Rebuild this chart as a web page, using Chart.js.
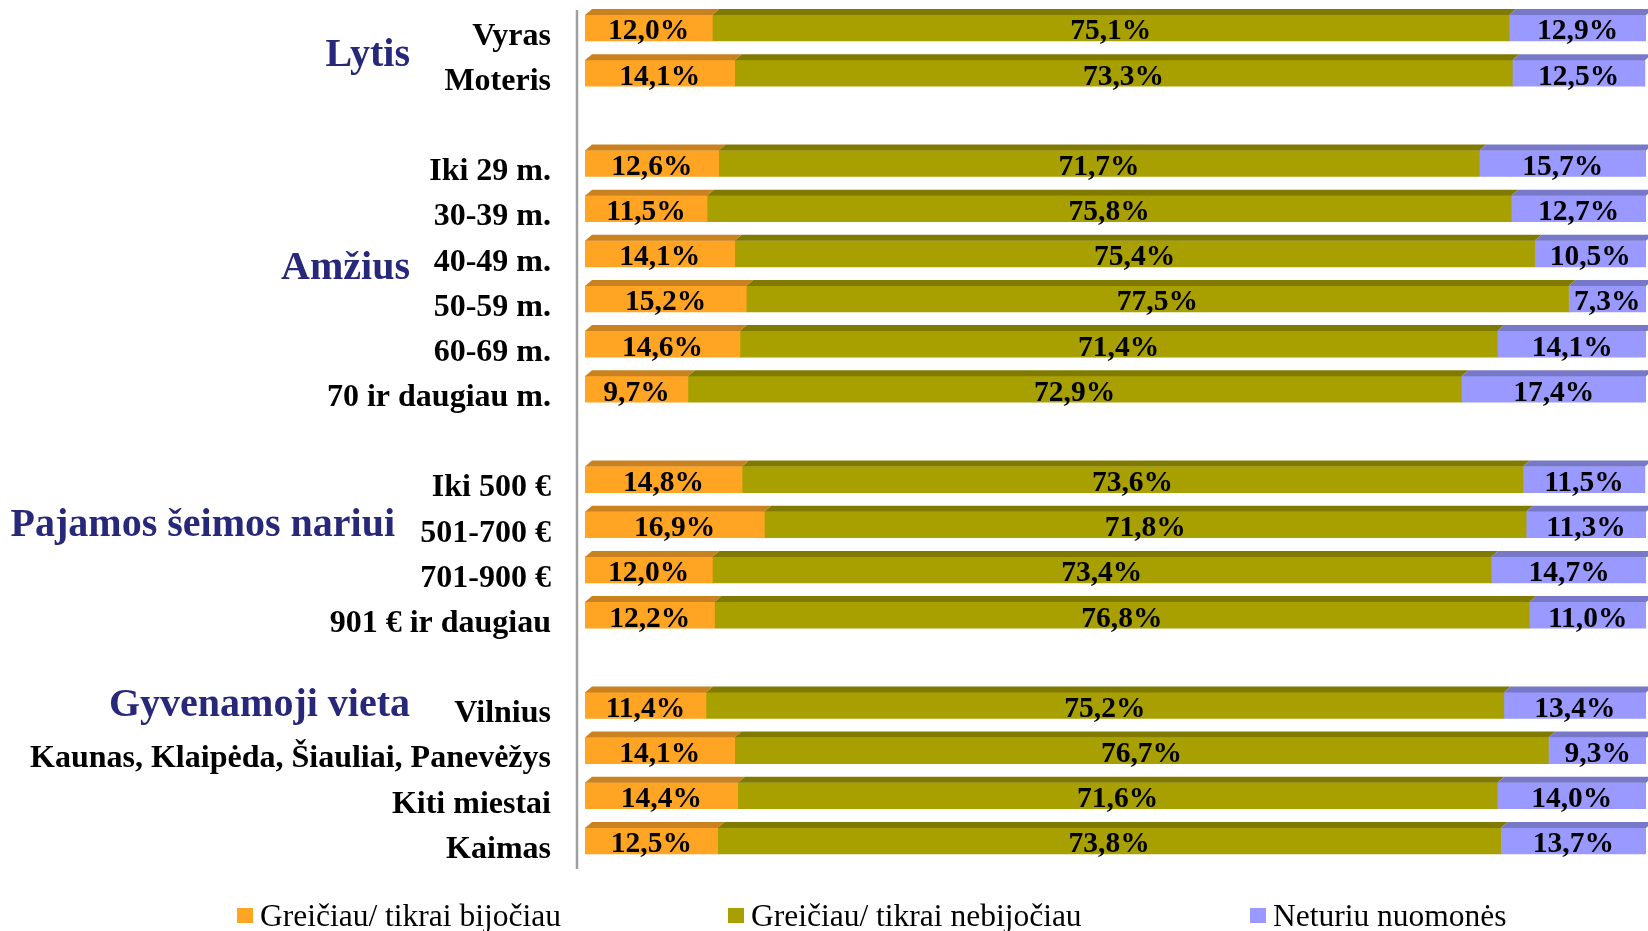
<!DOCTYPE html>
<html>
<head>
<meta charset="utf-8">
<script src="https://cdn.jsdelivr.net/npm/chart.js@4/dist/chart.umd.min.js"></script>
<style>
  html, body { margin: 0; padding: 0; background: #fff; overflow: hidden; }
  #wrap { width: 1648px; height: 931px; position: relative; }
</style>
</head>
<body>
<div id="wrap"><canvas id="chart"></canvas></div>
<script>
// '' rows are the empty spacer rows between groups
const categories = [
  'Vyras', 'Moteris', '',
  'Iki 29 m.', '30-39 m.', '40-49 m.', '50-59 m.', '60-69 m.', '70 ir daugiau m.', '',
  'Iki 500 €', '501-700 €', '701-900 €', '901 € ir daugiau', '',
  'Vilnius', 'Kaunas, Klaipėda, Šiauliai, Panevėžys', 'Kiti miestai', 'Kaimas'
];
const groups = ['Lytis', 'Amžius', 'Pajamos šeimos nariui', 'Gyvenamoji vieta'];

const seriesLabels = ['Greičiau/ tikrai bijočiau', 'Greičiau/ tikrai nebijočiau', 'Neturiu nuomonės'];
const afraid = [12.0, 14.1, null, 12.6, 11.5, 14.1, 15.2, 14.6, 9.7, null, 14.8, 16.9, 12.0, 12.2, null, 11.4, 14.1, 14.4, 12.5];
const notAfraid = [75.1, 73.3, null, 71.7, 75.8, 75.4, 77.5, 71.4, 72.9, null, 73.6, 71.8, 73.4, 76.8, null, 75.2, 76.7, 71.6, 73.8];
const noOpinion = [12.9, 12.5, null, 15.7, 12.7, 10.5, 7.3, 14.1, 17.4, null, 11.5, 11.3, 14.7, 11.0, null, 13.4, 9.3, 14.0, 13.7];

const FONT = '"Liberation Serif", "Times New Roman", serif';
const fronts = ['#FFA523', '#A8A000', '#9999FF'];
const tops = ['#C9821F', '#807B00', '#7878C8'];

// group label anchors: category position, right edge x
const groupPos = [[0.54, 410], [5.24, 410], [10.93, 395], [14.93, 410]];
const legendX = [237, 728, 1250];

const bars3d = {
  id: 'bars3d',
  afterDatasetsDraw(chart) {
    const ctx = chart.ctx;
    const depth = 6, shift = 7;
    ctx.save();
    chart.data.datasets.forEach((ds, i) => {
      chart.getDatasetMeta(i).data.forEach((bar, j) => {
        if (ds.data[j] == null) return;
        const top = bar.y - bar.height / 2;
        ctx.fillStyle = tops[i];
        ctx.beginPath();
        ctx.moveTo(bar.base, top);
        ctx.lineTo(bar.x, top);
        ctx.lineTo(bar.x + shift, top - depth);
        ctx.lineTo(bar.base + shift, top - depth);
        ctx.closePath();
        ctx.fill();
      });
    });
    // value labels
    ctx.font = 'bold 29.5px ' + FONT;
    ctx.fillStyle = '#000';
    ctx.textAlign = 'center';
    ctx.textBaseline = 'alphabetic';
    chart.data.datasets.forEach((ds, i) => {
      chart.getDatasetMeta(i).data.forEach((bar, j) => {
        const v = ds.data[j];
        if (v == null) return;
        ctx.fillText(v.toFixed(1).replace('.', ',') + '%', (bar.x + bar.base) / 2, bar.y + 11.5);
      });
    });
    ctx.restore();
  },
  afterDraw(chart) {
    const ctx = chart.ctx;
    const area = chart.chartArea;
    const y = chart.scales.y;
    ctx.save();
    // grey axis line a little left of the bars
    ctx.strokeStyle = '#A0A0A0';
    ctx.lineWidth = 2.5;
    ctx.beginPath();
    ctx.moveTo(area.left - 8, 10);
    ctx.lineTo(area.left - 8, 869);
    ctx.stroke();

    // group titles
    ctx.font = 'bold 40px ' + FONT;
    ctx.fillStyle = '#28287A';
    ctx.textAlign = 'right';
    ctx.textBaseline = 'alphabetic';
    groups.forEach((g, i) => {
      ctx.fillText(g, groupPos[i][1], y.getPixelForValue(groupPos[i][0]) + 14);
    });

    // legend
    ctx.font = '31.5px ' + FONT;
    ctx.textAlign = 'left';
    chart.data.datasets.forEach((ds, i) => {
      ctx.fillStyle = fronts[i];
      ctx.fillRect(legendX[i], 908, 16, 15);
      ctx.fillStyle = '#000';
      ctx.fillText(ds.label, legendX[i] + 23, 926);
    });
    ctx.restore();
  }
};

new Chart(document.getElementById('chart'), {
  type: 'bar',
  data: {
    labels: categories,
    datasets: [
      { label: seriesLabels[0], data: afraid, backgroundColor: fronts[0] },
      { label: seriesLabels[1], data: notAfraid, backgroundColor: fronts[1] },
      { label: seriesLabels[2], data: noOpinion, backgroundColor: fronts[2] }
    ]
  },
  options: {
    indexAxis: 'y',
    responsive: true,
    maintainAspectRatio: false,
    animation: false,
    barThickness: 26,
    layout: { padding: { top: 5.4, bottom: 67.5, left: 0, right: 2 } },
    plugins: {
      legend: { display: false },
      tooltip: { enabled: false }
    },
    scales: {
      x: {
        stacked: true,
        display: false,
        min: 0,
        max: 100
      },
      y: {
        stacked: true,
        grid: { display: false, drawTicks: false },
        border: { display: false },
        ticks: {
          color: '#000',
          font: { family: FONT, size: 32, weight: 'bold' },
          padding: 34,
          labelOffset: 8.5,
          autoSkip: false
        },
        afterFit(scale) {
          scale.width = 585;
          scale.paddingTop = 0;
          scale.paddingBottom = 0;
        }
      }
    }
  },
  plugins: [bars3d]
});
</script>
</body>
</html>
